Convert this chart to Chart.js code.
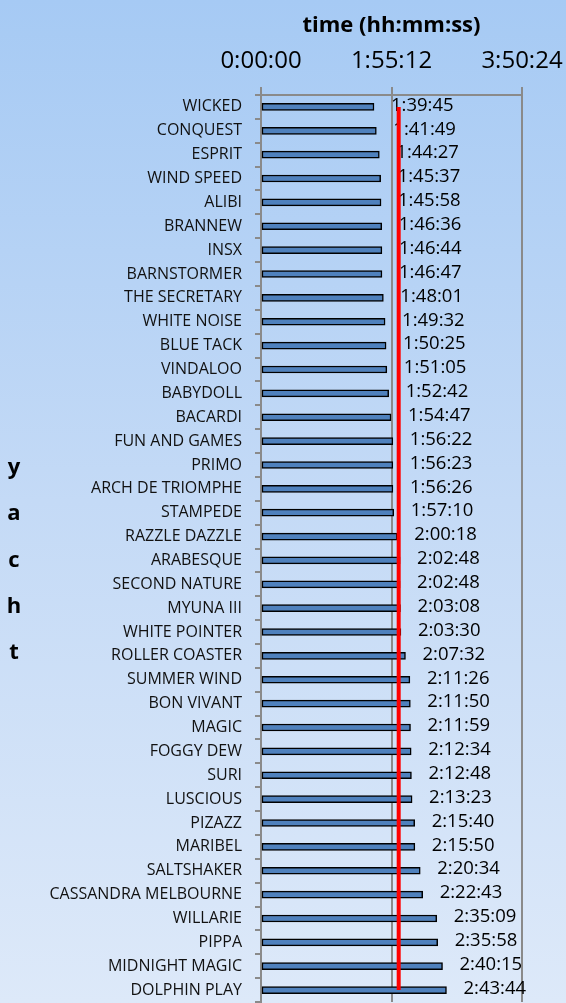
<!DOCTYPE html>
<html>
<head>
<meta charset="utf-8">
<script src="https://cdn.jsdelivr.net/npm/chart.js@4.4.1/dist/chart.umd.min.js"></script>
<style>
  body { margin: 0; }
  #wrap {
    width: 566px; height: 1003px; position: relative;
    background: linear-gradient(to bottom, #a6caf4 0%, #c4daf6 50%, #dde9f9 100%);
  }
</style>
</head>
<body>
<div id="wrap"><canvas id="chart"></canvas></div>
<script>
// data
const yachts = ['WICKED', 'CONQUEST', 'ESPRIT', 'WIND SPEED', 'ALIBI', 'BRANNEW', 'INSX',
  'BARNSTORMER', 'THE SECRETARY', 'WHITE NOISE', 'BLUE TACK', 'VINDALOO', 'BABYDOLL',
  'BACARDI', 'FUN AND GAMES', 'PRIMO', 'ARCH DE TRIOMPHE', 'STAMPEDE', 'RAZZLE DAZZLE',
  'ARABESQUE', 'SECOND NATURE', 'MYUNA III', 'WHITE POINTER', 'ROLLER COASTER',
  'SUMMER WIND', 'BON VIVANT', 'MAGIC', 'FOGGY DEW', 'SURI', 'LUSCIOUS', 'PIZAZZ',
  'MARIBEL', 'SALTSHAKER', 'CASSANDRA MELBOURNE', 'WILLARIE', 'PIPPA', 'MIDNIGHT MAGIC',
  'DOLPHIN PLAY'];
const finishTimes = ['1:39:45', '1:41:49', '1:44:27', '1:45:37', '1:45:58', '1:46:36', '1:46:44',
  '1:46:47', '1:48:01', '1:49:32', '1:50:25', '1:51:05', '1:52:42',
  '1:54:47', '1:56:22', '1:56:23', '1:56:26', '1:57:10', '2:00:18',
  '2:02:48', '2:02:48', '2:03:08', '2:03:30', '2:07:32',
  '2:11:26', '2:11:50', '2:11:59', '2:12:34', '2:12:48', '2:13:23', '2:15:40',
  '2:15:50', '2:20:34', '2:22:43', '2:35:09', '2:35:58', '2:40:15',
  '2:43:44'];
const xTickLabels = ['0:00:00', '1:55:12', '3:50:24'];
const medianTime = '2:01:33'; // red line

function toSec(t) {
  const p = t.split(':').map(Number);
  return p[0] * 3600 + p[1] * 60 + p[2];
}

const seconds = finishTimes.map(toSec);
const medianSec = toSec(medianTime);

// labels after each bar
const barLabels = {
  id: 'barLabels',
  afterDatasetDraw(chart, args) {
    if (args.index !== 0) return;
    const ctx = chart.ctx;
    ctx.save();
    ctx.font = '18.5px "Open Sans"';
    ctx.fillStyle = '#000';
    ctx.textAlign = 'left';
    ctx.textBaseline = 'middle';
    args.meta.data.forEach((bar, i) => {
      ctx.fillText(finishTimes[i], bar.x + 17, bar.y - 1.5);
    });
    ctx.restore();
  }
};

// stacked "yacht" axis title
const yTitle = {
  id: 'yTitle',
  afterDraw(chart) {
    const ctx = chart.ctx;
    const mid = (chart.chartArea.top + chart.chartArea.bottom) / 2 + 12;
    ctx.save();
    ctx.font = 'bold 22px "Open Sans"';
    ctx.fillStyle = '#000';
    ctx.textAlign = 'center';
    ctx.textBaseline = 'middle';
    'yacht'.split('').forEach((ch, i) => {
      ctx.fillText(ch, 14, mid + (i - 2) * 46.3);
    });
    ctx.restore();
  }
};

const gray = '#8a8a8a';

new Chart(document.getElementById('chart'), {
  data: {
    labels: yachts,
    datasets: [{
      type: 'bar',
      order: 2,
      data: seconds,
      backgroundColor: '#4f81bd',
      borderColor: '#000',
      borderWidth: 1.5,
      borderSkipped: false,
      barThickness: 7
    }, {
      type: 'line',
      order: 1,
      indexAxis: 'y',
      data: yachts.map(() => medianSec),
      borderColor: '#ff0000',
      borderWidth: 4,
      pointRadius: 0,
      fill: false
    }]
  },
  options: {
    indexAxis: 'y',
    responsive: true,
    maintainAspectRatio: false,
    animation: false,
    layout: { padding: { left: 0, right: 44, top: 0, bottom: 1 } },
    plugins: { legend: { display: false }, tooltip: { enabled: false } },
    scales: {
      x: {
        position: 'top',
        min: 0,
        max: 13824,
        ticks: {
          stepSize: 6912,
          padding: 11,
          maxRotation: 0,
          color: '#000',
          font: { family: 'Open Sans', size: 24 },
          callback: (v, i) => xTickLabels[i]
        },
        grid: { color: gray, lineWidth: 2, tickLength: 8 },
        border: { display: true, color: gray, width: 2 },
        title: {
          display: true,
          text: 'time (hh:mm:ss)',
          color: '#000',
          font: { family: 'Open Sans', size: 22, weight: 'bold' },
          padding: { top: 13, bottom: 0 }
        },
        afterFit: s => {
          s.height = 95;
          s.paddingLeft = 0;
          s.paddingRight = 0;
        }
      },
      y: {
        ticks: {
          padding: 13,
          color: '#111',
          autoSkip: false,
          font: { family: 'Open Sans', size: 16 }
        },
        grid: { drawOnChartArea: false, offset: true, color: gray, lineWidth: 2, tickLength: 6 },
        border: { display: true, color: gray, width: 2 },
        afterFit: s => {
          s.width = 261;
          s.paddingTop = 0;
          s.paddingBottom = 0;
        }
      }
    }
  },
  plugins: [barLabels, yTitle]
});
</script>
</body>
</html>
